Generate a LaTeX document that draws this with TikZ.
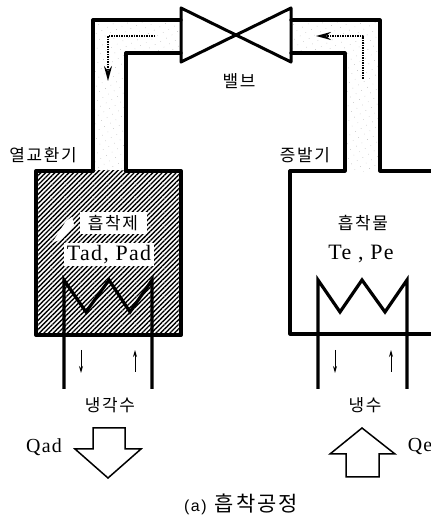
\documentclass[tikz,border=0pt]{standalone}
\usepackage{fontspec}
\newfontfamily\krfont[LetterSpace=10]{Noto Sans CJK KR}
\newfontfamily\latinfont[LetterSpace=6]{Liberation Serif}
\newfontfamily\capfont[LetterSpace=10]{Liberation Sans}
\usetikzlibrary{patterns.meta,arrows.meta}
\tikzset{
  wall/.style={black,line width=3.2bp,line join=round,line cap=round},
  coil/.style={black,line width=3.2bp,line join=miter,line cap=butt},
  flow/.style={black,line width=2bp,dash pattern=on 1.5bp off 1bp,-{Stealth[length=15bp,width=8bp,inset=5bp]}},
  thin arrow/.style={black,line width=1bp,-{Stealth[length=7bp,width=4bp]}},
  heat/.style={black,line width=1.5bp,line join=miter},
  hangul/.style={font=\krfont\fontsize{17}{19}\selectfont,inner sep=0pt},
  latin/.style={font=\latinfont\fontsize{22}{24}\selectfont,inner sep=0pt},
  heatlabel/.style={font=\latinfont\fontsize{20}{22}\selectfont,inner sep=0pt},
  plate/.style={fill=white},
  hatch/.style={pattern={Lines[angle=45,distance=3.3bp,line width=1.35bp]},pattern color=black},
  stipple/.style={pattern={Dots[angle=30,distance=6.5bp,radius=0.3bp]},pattern color=black!50},
}
\begin{document}
\begin{tikzpicture}[>=latex,line join=bevel,]
\useasboundingbox (0bp,0bp) rectangle (431bp,517bp);
%%
\fill [stipple] (93bp,345bp) -- (93bp,497bp) -- (181bp,497bp) -- (181bp,464bp) -- (126bp,464bp) -- (126bp,345bp) -- cycle;
\fill [stipple] (291bp,497bp) -- (380bp,497bp) -- (380bp,345bp) -- (345bp,345bp) -- (345bp,464bp) -- (291bp,464bp) -- cycle;
\fill [hatch] (36bp,346bp) rectangle (181bp,182bp);
\fill [white] (52bp,274bp) -- (66bp,296bp) -- (72bp,300bp) -- (74bp,292bp) -- (62bp,278bp) -- cycle;
%
\draw [wall,line width=4bp] (93bp,346bp) -- (36bp,346bp) -- (36bp,182bp) -- (181bp,182bp) -- (181bp,346bp) -- (126bp,346bp);
\draw [wall] (93bp,346bp) -- (93bp,497bp) -- (181bp,497bp);
\draw [wall] (126bp,346bp) -- (126bp,464bp) -- (181bp,464bp);
\draw [wall] (291bp,497bp) -- (380bp,497bp) -- (380bp,346bp) -- (431bp,346bp);
\draw [wall] (291bp,464bp) -- (345bp,464bp) -- (345bp,346bp) -- (290bp,346bp) -- (290bp,183bp) -- (431bp,183bp);
\draw [wall,line width=3bp] (181bp,509bp) -- (181bp,455bp) -- (291bp,509bp) -- (291bp,455bp) -- cycle;
%
\draw [coil] (64bp,128bp) -- (64bp,237bp) -- (86bp,205bp) -- (109bp,237bp) -- (130bp,205bp) -- (152bp,237bp) -- (152bp,128bp);
\draw [coil] (318bp,128bp) -- (318bp,237bp) -- (340bp,205bp) -- (362bp,237bp) -- (385bp,205bp) -- (407bp,237bp) -- (407bp,128bp);
%
\coordinate (flow_l0) at (155bp,481bp);
\coordinate (flow_l1) at (108bp,481bp);
\coordinate (flow_l2) at (108bp,436bp);
\coordinate (flow_r0) at (363bp,438bp);
\coordinate (flow_r1) at (363bp,481bp);
\coordinate (flow_r2) at (316bp,481bp);
\draw [flow] (flow_l0) -- (flow_l1) -- (flow_l2);
\draw [flow] (flow_r0) -- (flow_r1) -- (flow_r2);
%
\coordinate (in_l0) at (81bp,167bp);
\coordinate (in_l1) at (81bp,144bp);
\coordinate (in_l2) at (135bp,145bp);
\coordinate (in_l3) at (135bp,167bp);
\coordinate (in_r0) at (335bp,167bp);
\coordinate (in_r1) at (335bp,144bp);
\coordinate (in_r2) at (391bp,145bp);
\coordinate (in_r3) at (391bp,167bp);
\draw [thin arrow] (in_l0) -- (in_l1);
\draw [thin arrow] (in_l2) -- (in_l3);
\draw [thin arrow] (in_r0) -- (in_r1);
\draw [thin arrow] (in_r2) -- (in_r3);
%
\draw [heat] (93bp,89bp) -- (125bp,89bp) -- (125bp,68bp) -- (141bp,68bp) -- (108bp,39bp) -- (75bp,68bp) -- (93bp,68bp) -- cycle;
\draw [heat] (346bp,40bp) -- (379bp,40bp) -- (379bp,63bp) -- (395bp,63bp) -- (362bp,89bp) -- (330bp,63bp) -- (346bp,63bp) -- cycle;
%
\node (node_valve) at (239bp,436bp) [hangul] {밸브};
\node (node_exchanger) at (43bp,362bp) [hangul] {열교환기};
\node (node_evaporator) at (305bp,362bp) [hangul] {증발기};
\node (node_adsorbent) at (113bp,294bp) [hangul,plate,minimum width=67bp,minimum height=22bp] {흡착제};
\node (node_tad) at (109bp,262.5bp) [latin,plate,minimum width=90bp,minimum height=23bp] {Tad, Pad};
\node (node_adsorbate) at (363bp,294bp) [hangul] {흡착물};
\node (node_te) at (361bp,263bp) [latin] {Te , Pe};
\node (node_coolant) at (110bp,112bp) [hangul] {냉각수};
\node (node_chilled) at (365bp,112bp) [hangul] {냉수};
\node (node_qad) at (44bp,70bp) [heatlabel] {Qad};
\node (node_qe) at (420bp,70bp) [heatlabel] {Qe};
\node (node_caption) at (241bp,13bp) [inner sep=0pt] {{\capfont\fontsize{16}{18}\selectfont (a)}\hspace{8bp}{\krfont\fontsize{21}{23}\selectfont 흡착공정}};
%
\end{tikzpicture}
\end{document}
